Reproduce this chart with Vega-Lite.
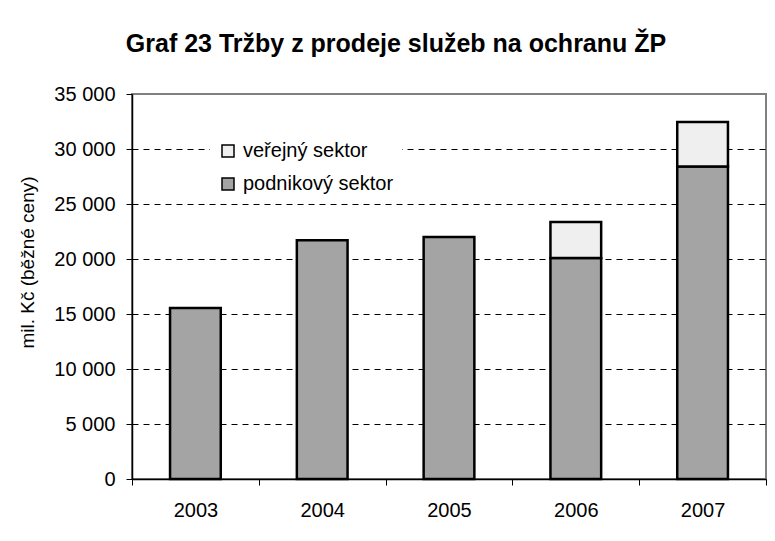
{
  "$schema": "https://vega.github.io/schema/vega-lite/v6.json",
  "width": 634,
  "height": 385,
  "autosize": "none",
  "padding": {"left": 132, "top": 94, "right": 9, "bottom": 62},
  "background": "white",
  "title": {
    "text": "Graf 23 Tržby z prodeje služeb na ochranu ŽP",
    "font": "Liberation Sans",
    "fontSize": 25,
    "fontWeight": "bold",
    "color": "black",
    "anchor": "middle",
    "frame": "group",
    "baseline": "alphabetic",
    "offset": 47,
    "dx": -53,
    "dy": 40
  },
  "data": {
    "values": [
      {"rok": "2003", "sektor": "podnikový sektor", "hodnota": 15550},
      {"rok": "2004", "sektor": "podnikový sektor", "hodnota": 21700},
      {"rok": "2005", "sektor": "podnikový sektor", "hodnota": 22000},
      {"rok": "2006", "sektor": "podnikový sektor", "hodnota": 20100},
      {"rok": "2006", "sektor": "veřejný sektor", "hodnota": 3270},
      {"rok": "2007", "sektor": "podnikový sektor", "hodnota": 28400},
      {"rok": "2007", "sektor": "veřejný sektor", "hodnota": 4050}
    ]
  },
  "mark": {"type": "bar", "stroke": "black", "strokeWidth": 2.5, "width": {"band": 0.4}},
  "encoding": {
    "x": {
      "field": "rok",
      "type": "ordinal",
      "scale": {"paddingInner": 0, "paddingOuter": 0},
      "axis": {
        "title": null,
        "labelAngle": 0,
        "tickBand": "extent",
        "tickSize": 6,
        "tickColor": "black",
        "domainColor": "black",
        "domainWidth": 1.5,
        "labelFont": "Liberation Sans",
        "labelFontSize": 20,
        "labelColor": "black",
        "labelPadding": 15,
        "grid": false
      }
    },
    "y": {
      "field": "hodnota",
      "type": "quantitative",
      "stack": "zero",
      "scale": {"domain": [0, 35000]},
      "axis": {
        "title": "mil. Kč (běžné ceny)",
        "titleFont": "Liberation Sans",
        "titleFontSize": 19,
        "titleFontWeight": "normal",
        "titleColor": "black",
        "titleAngle": -90,
        "titleX": -105,
        "titleY": 168,
        "titleAlign": "center",
        "titleBaseline": "middle",
        "values": [0, 5000, 10000, 15000, 20000, 25000, 30000, 35000],
        "format": ",d",
        "labelExpr": "replace(datum.label, ',', ' ')",
        "labelFont": "Liberation Sans",
        "labelFontSize": 20,
        "labelColor": "black",
        "labelPadding": 11,
        "tickSize": 6,
        "tickColor": "black",
        "domainColor": "black",
        "domainWidth": 1.5,
        "grid": true,
        "gridColor": "black",
        "gridDash": [6, 5],
        "gridWidth": 1,
        "gridOpacity": {"condition": {"test": "datum.value == 0 || datum.value == 35000", "value": 0}, "value": 1}
      }
    },
    "color": {
      "field": "sektor",
      "type": "nominal",
      "scale": {"domain": ["veřejný sektor", "podnikový sektor"], "range": ["#efefef", "#a4a4a4"]},
      "legend": {
        "title": null,
        "orient": "none",
        "legendX": 78,
        "legendY": 39,
        "padding": 8,
        "fillColor": "white",
        "symbolType": "square",
        "symbolSize": 144,
        "symbolStrokeColor": "black",
        "symbolStrokeWidth": 1.5,
        "labelFont": "Liberation Sans",
        "labelFontSize": 20,
        "labelColor": "black",
        "labelOffset": 5,
        "rowPadding": 13
      }
    },
    "order": {"field": "sektor", "sort": "ascending"}
  },
  "config": {
    "view": {"stroke": "#808080", "strokeWidth": 2}
  }
}
